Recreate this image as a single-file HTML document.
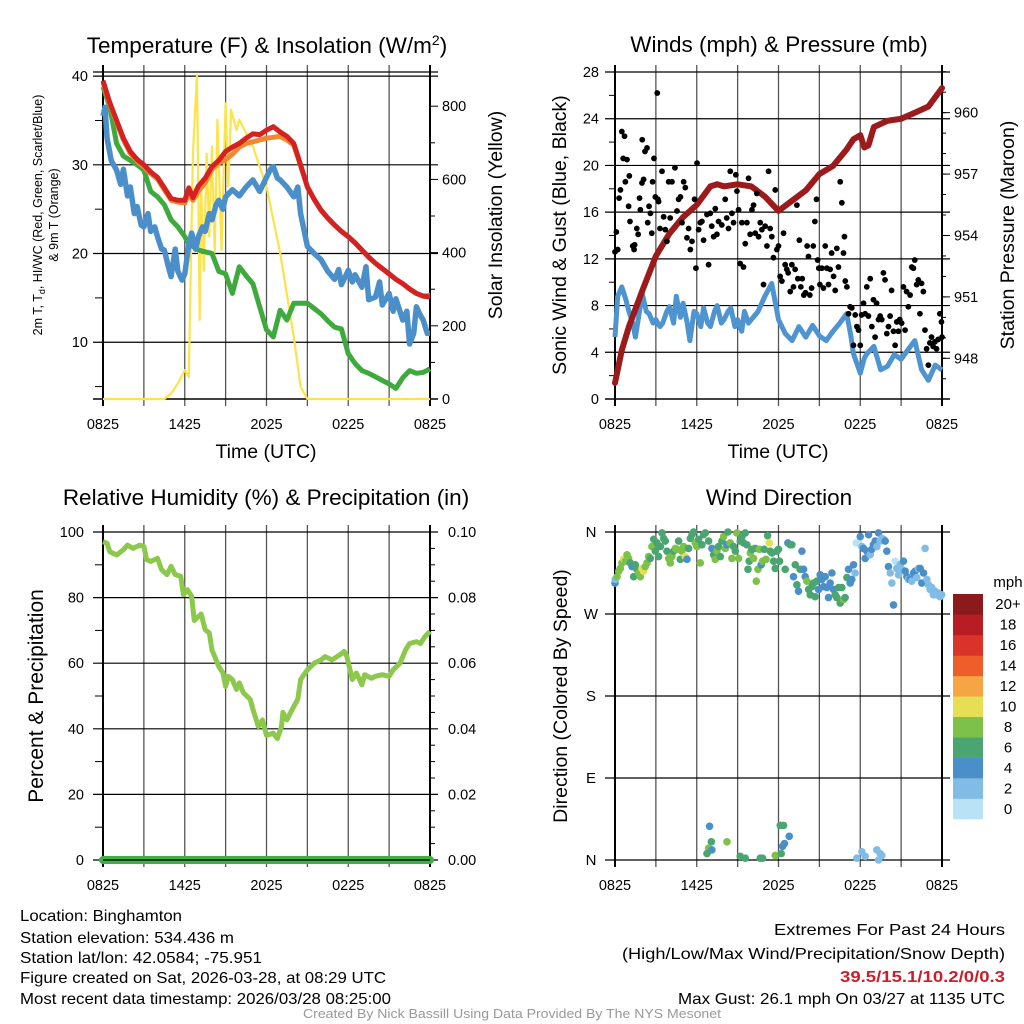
<!DOCTYPE html>
<html><head><meta charset="utf-8"><style>
html,body{margin:0;padding:0;background:#fff}
svg{display:block;font-family:"Liberation Sans",Arial,sans-serif}
</style></head><body>
<svg id="svg" width="1024" height="1024" viewBox="0 0 1024 1024" xmlns="http://www.w3.org/2000/svg">
<g id="g1"></g>
<g id="g2"></g>
<g id="g3"></g>
<g id="g4"></g>
<g font-size="16" fill="#000" lengthAdjust="spacingAndGlyphs">
<text x="20" y="921" textLength="162" lengthAdjust="spacingAndGlyphs">Location: Binghamton</text>
<text x="20" y="943" textLength="214" lengthAdjust="spacingAndGlyphs">Station elevation: 534.436 m</text>
<text x="20" y="963" textLength="242" lengthAdjust="spacingAndGlyphs">Station lat/lon: 42.0584; -75.951</text>
<text x="20" y="983" textLength="366" lengthAdjust="spacingAndGlyphs">Figure created on Sat, 2026-03-28, at 08:29 UTC</text>
<text x="20" y="1004" textLength="371" lengthAdjust="spacingAndGlyphs">Most recent data timestamp: 2026/03/28 08:25:00</text>
<text x="1005" y="935" text-anchor="end" textLength="231" lengthAdjust="spacingAndGlyphs">Extremes For Past 24 Hours</text>
<text x="1005" y="959" text-anchor="end" textLength="383" lengthAdjust="spacingAndGlyphs">(High/Low/Max Wind/Precipitation/Snow Depth)</text>
<text x="1005" y="982" text-anchor="end" textLength="165" lengthAdjust="spacingAndGlyphs" font-weight="bold" fill="#c8202a">39.5/15.1/10.2/0/0.3</text>
<text x="1005" y="1004" text-anchor="end" textLength="327" lengthAdjust="spacingAndGlyphs">Max Gust: 26.1 mph On 03/27 at 1135 UTC</text>
<text x="512" y="1018" text-anchor="middle" font-size="12.5" textLength="418" lengthAdjust="spacingAndGlyphs" fill="#999">Created By Nick Bassill Using Data Provided By The NYS Mesonet</text>
</g>
</svg>
<script>
// ---------- DATA ----------
const timeLabels = ["0825","1425","2025","0225","0825"];
const tempTicks = [10,20,30,40];
const solarTicks = [0,200,400,600,800];
const windTicks = [0,4,8,12,16,20,24,28];
const presTicks = [948,951,954,957,960];
const rhTicks = [0,20,40,60,80,100];
const precipTicks = ["0.00","0.02","0.04","0.06","0.08","0.10"];
const dirTicks = ["N","E","S","W","N"];

const tempH = [0,0.5,1,1.5,2,2.5,3,3.5,4,4.5,5,5.5,6,6.3,6.6,7,7.5,8,8.5,9,9.5,10,10.5,11,11.5,12,12.5,13,13.5,14,14.5,15,15.5,16,16.5,17,17.5,18,18.5,19,19.5,20,20.5,21,21.5,22,22.5,23,23.5,24];
const tempVals = [39.5,37,35,33,31.5,30.6,30,29.2,28.6,27.4,26.2,26,26,27.4,26.3,27.6,28.5,29.8,30.5,31.5,32,32.4,33,33.5,33.4,33.9,34.3,33.7,33.2,32.4,30,27.5,26.1,24.9,24,23.2,22.5,21.9,21.2,20.4,19.6,18.9,18.3,17.7,17.1,16.6,16,15.5,15.2,15.1];
const orangeVals = [39.3,36.8,34.8,32.8,31.3,30.4,29.8,29,28.4,27.2,26,25.8,25.7,26.8,26,27,28,29.5,30.2,30.6,31.2,32,32.4,32.6,32.8,33,33.1,33.2,32.8,32.2,29.9,27.5,26.1,24.9,24,23.2,22.5,21.9,21.2,20.4,19.6,18.9,18.3,17.7,17.1,16.6,16,15.5,15.2,15.3];
const chillH = [0,0.15,0.3,0.6,1,1.3,1.5,1.8,2,2.3,2.5,2.8,3,3.3,3.5,3.8,4,4.3,4.5,4.8,5,5.3,5.5,5.8,6,6.3,6.5,6.8,7,7.3,7.5,7.8,8,8.3,8.5,8.8,9,9.5,10,10.5,11,11.5,12,12.3,12.5,12.8,13,13.5,14,14.3,14.5,15,15.5,16,16.5,17,17.3,17.5,18,18.3,18.5,19,19.3,19.5,20,20.3,20.5,21,21.3,21.5,22,22.3,22.5,22.8,23,23.3,23.5,23.8,24];
const chillVals = [35.5,36.5,33,30.5,29.4,27.8,29.5,26.5,27.5,24.5,25.3,23.2,23,24.5,22.5,23,21.9,20.5,20.4,18.5,17.4,20.5,18,17,17.7,21,22.3,20.5,21.9,23,22.5,24.5,23.8,25.5,26,25,26.4,27.2,26.5,27.5,28.3,27,28.6,29.5,29.8,28.5,28.3,27.5,26.4,27.5,24.5,20.8,20,19.3,18,17.1,18.2,16.5,18.1,16.8,17.6,16.2,18.5,14.8,15.1,16.8,14.2,15.5,13.5,14.9,12.5,13.5,9.8,11,14,13,12.5,11,11];
const dewVals = [38.8,36.5,32.4,31,30.5,30,29.4,27,26.4,25.5,23.8,23,21.9,21.1,20.8,20.4,20.2,20,18,17.7,15.5,18.5,17.5,16.6,14,11.4,10.6,13.6,12.5,14.4,14.4,14.4,13.8,13.2,12.4,11.7,11.5,8.7,7.6,6.8,6.5,6.1,5.7,5.3,4.8,6,6.8,6.5,6.6,7];
const solarH = [0,4.5,5,5.5,6,6.3,6.6,6.9,7.1,7.2,7.4,7.6,7.8,8,8.2,8.4,8.7,9,9.2,9.4,9.8,10,11,12,13,14,14.5,15,24];
const solarVals = [0,0,15,43,79,60,670,885,216,580,350,670,444,690,400,763,407,808,580,790,735,763,690,580,400,170,34,0,0];

const presH = [0,0.5,1,1.5,2,3,4,5,6,7,7.5,8,9,10,11,12,13,14,15,16,17,17.5,18,18.3,18.6,19,20,21,22,23,24];
const presVals = [946.8,948.4,949.5,950.4,951.3,953,954.1,954.9,955.5,956.4,956.5,956.4,956.5,956.4,955.9,955.2,955.7,956.2,957,957.4,958.2,958.7,958.9,958.3,958.4,959.3,959.6,959.7,960,960.3,961.2];
const windH = [0,0.2,0.5,0.8,1,1.3,1.5,1.8,2,2.3,2.5,2.8,3,3.3,3.5,3.8,4,4.3,4.5,4.8,5,5.3,5.5,5.8,6,6.3,6.5,6.8,7,7.3,7.5,7.8,8,8.3,8.5,8.8,9,9.3,9.5,9.8,10,10.5,11,11.5,12,12.5,13,13.5,14,14.5,15,15.5,16,16.5,17,17.3,17.5,18,18.3,18.5,19,19.5,20,20.5,21,21.5,22,22.5,23,23.5,24];
const windVals = [5.3,8.8,9.6,8.5,7.6,6.5,5.3,7.5,9,7.5,7.3,6.5,6.8,6.2,6.5,7.5,7.9,6.5,8.8,7,8.2,6.5,5,7.5,7.3,6.2,7.8,6.5,6.2,7.5,8,6.5,6.8,7.5,7.8,6.2,6.8,5.8,7.5,6.5,6.8,7.5,8.8,9.9,6.8,5.6,5,6.2,5.3,6.3,5.4,5,5.8,6.5,7.3,5.5,3.9,2.2,3.5,3.9,4.5,2.5,2.8,3.8,3.4,4.2,5,2.5,1.6,2.9,2.5];
const gustH = [0,0.1,0.2,0.3,0.4,0.5,0.6,0.7,0.76,0.88,1,1.05,1.1,1.3,1.4,1.44,1.6,1.7,1.8,1.86,1.98,2.0,2.1,2.2,2.35,2.4,2.5,2.6,2.7,2.76,2.86,2.96,3.1,3.15,3.2,3.3,3.45,3.57,3.69,3.81,3.94,4.05,4.18,4.4,4.55,4.67,4.8,4.92,5.04,5.16,5.28,5.4,5.53,5.65,5.84,5.94,6.02,6.14,6.26,6.38,6.5,6.75,6.87,6.99,7.1,7.24,7.36,7.48,7.6,7.84,8.09,8.2,8.33,8.46,8.58,8.7,8.87,8.95,9.07,9.19,9.31,9.43,9.56,9.68,9.8,9.92,10.05,10.17,10.29,10.41,10.54,10.66,10.78,10.9,11.02,11.15,11.27,11.39,11.51,11.63,11.76,11.88,12.0,12.12,12.25,12.37,12.49,12.61,12.71,12.86,12.98,13.1,13.22,13.35,13.42,13.53,13.64,13.74,13.86,13.98,14.1,14.2,14.3,14.43,14.55,14.67,14.79,14.87,14.96,15.04,15.18,15.3,15.43,15.55,15.67,15.79,15.9,16.04,16.16,16.28,16.4,16.53,16.65,16.77,16.84,16.9,17.02,17.14,17.26,17.38,17.5,17.63,17.75,17.87,18.0,18.1,18.24,18.36,18.48,18.6,18.73,18.85,18.97,19.09,19.2,19.34,19.46,19.58,19.7,19.82,19.95,20.07,20.19,20.3,20.44,20.56,20.68,20.8,20.9,21.04,21.17,21.29,21.4,21.53,21.66,21.78,21.9,22.0,22.14,22.26,22.38,22.5,22.63,22.75,22.87,23.0,23.11,23.23,23.35,23.48,23.6,23.72,23.84,23.96,24];
const gustVals = [12.6,14.3,12.8,17.2,17.9,22.9,20.6,22.5,18.6,20.5,16.5,19.1,15.2,13.1,12.8,13.2,14.6,14.1,17.2,16.2,18.5,22.2,18.8,21.2,21.5,15.1,16.5,15.9,14.2,18.6,20.6,17.3,26.2,17.1,16.9,14.6,19.5,15.6,14.5,13.5,18.6,15.5,18.6,19.8,16.1,17.1,17.3,15.1,18.6,18.1,13.8,14.6,12.8,13.5,17.1,11.2,20.2,14.5,15.1,15.2,13.6,15.8,11.5,15.9,14.8,13.9,16.3,14.1,15.2,14.9,17.1,15.5,14.6,19.5,15.9,15.1,19.2,17.8,16.2,11.6,15.1,11.3,13.3,15.1,18.9,14.1,16.2,16.6,14.2,17.6,13.9,15.1,14.5,9.8,14.8,13.1,19.5,14.6,13.9,12.1,17.9,12.8,13.1,10.5,10.1,14.2,11.5,11.1,10.8,9.2,11.5,9.6,11.1,16.6,10.3,13.6,9.6,10.3,8.9,9.1,13.1,12.2,8.9,9.5,13.1,15.2,17.1,11.9,11.2,9.8,11.2,9.5,13.1,11.2,9.8,11.1,12.5,10.5,9.3,12.9,11.3,18.6,16.8,12.5,13.9,10.1,9.6,7.3,7.9,7.8,4.6,7.2,6.2,5.9,4.6,7.2,8.2,7.3,9.6,7.1,10.3,6.2,8.5,5.3,8.2,6.8,7.1,6.8,10.8,10.2,5.6,6.2,7.1,9.3,5.8,4.6,6.6,5.8,6.8,6.5,9.6,5.9,9.2,7.9,8.9,11.3,11.2,11.9,9.8,10.2,7.3,9.9,9.2,5.9,4.3,2.9,4.8,5.3,4.5,4.9,4.3,5.1,7.3,6.6,5.3];

const rhH = [0,0.3,0.5,1,1.5,1.8,2.2,2.7,3,3.2,3.5,4,4.3,4.7,5,5.3,5.7,5.9,6.2,6.5,6.7,7.2,7.5,7.8,8,8.5,8.8,9,9.2,9.5,9.8,10,10.3,10.8,11,11.4,11.7,12,12.5,12.8,13.1,13.2,13.5,13.9,14.3,14.5,15,15.5,16,16.3,16.8,17.4,17.7,17.9,18.1,18.3,18.6,19,19.2,19.7,20,20.5,21,21.3,21.8,22.2,22.5,23,23.3,23.6,24];
const rhVals = [97,96.6,94,93,94.6,96,95,96,95.6,91.6,91,92,88.5,87,89.5,87,86.5,80.9,82.4,80.4,73,75,70.2,69.2,64,59,57,52.9,56,55,52,54,51,49,46,40.7,42.7,38,38.7,37,40.7,45,42.7,46,49,55,58,60,61,62,61,62.6,63.6,62,58.5,55,57,53.4,56.5,55.4,56,56.5,56,58,60,64,66,66.6,66,68,69.7];
const precipH = [0,24];
const precipVals = [0,0];

const dirH = [0,0.02,0.15,0.27,0.39,0.51,0.64,0.76,0.88,1.0,1.12,1.25,1.37,1.49,1.61,1.74,1.86,1.98,2.1,2.22,2.35,2.47,2.59,2.71,2.84,2.96,3.08,3.2,3.33,3.45,3.57,3.69,3.81,3.94,4.06,4.18,4.3,4.43,4.55,4.67,4.79,4.91,5.04,5.16,5.28,5.4,5.53,5.65,5.77,5.89,6.01,6.14,6.26,6.38,6.5,6.63,6.87,7.11,7.24,7.36,7.48,7.6,7.73,7.85,7.97,8.09,8.22,8.29,8.46,8.58,8.7,8.83,8.95,9.07,9.19,9.32,9.44,9.56,9.68,9.76,9.85,9.93,10.05,10.17,10.29,10.37,10.49,10.59,10.73,10.83,10.95,11.08,11.2,11.32,11.39,11.52,11.64,11.76,11.88,12.0,12.08,12.49,12.69,12.86,12.98,13.1,13.23,13.35,13.47,13.59,13.72,13.84,13.96,14.08,14.21,14.33,14.45,14.57,14.69,14.82,14.94,15.06,15.18,15.31,15.43,15.55,15.67,15.79,15.92,16.04,16.16,16.28,16.41,16.53,16.65,16.77,16.89,17.02,17.14,17.26,17.38,17.51,17.63,17.7,17.87,18.0,18.12,18.24,18.36,18.48,18.61,18.73,18.85,18.97,19.1,19.22,19.34,19.46,19.58,19.71,19.83,19.95,20.07,20.2,20.32,20.44,20.56,20.68,20.81,20.93,21.05,21.17,21.3,21.42,21.54,21.66,21.78,21.91,22.03,22.15,22.27,22.4,22.52,22.64,22.76,22.89,23.01,23.13,23.25,23.37,23.5,23.62,23.74,23.86,23.98,
6.94,7.07,6.87,7.11,6.75,8.22,9.19,9.56,10.66,10.83,11.76,12.2,12.3,12.44,12.13,12.37,12.79,17.75,18.12,18.36,19.22,19.34,19.58,19.46];
const dirDeg = [304,308,311,317,320,326,330,328,335,331,326,322,311,324,319,315,311,320,317,322,326,333,331,344,352,339,348,333,344,359,353,350,339,331,326,333,339,342,341,350,330,339,344,333,330,342,353,357,360,348,344,352,326,346,357,359,350,342,335,330,339,344,333,350,355,342,346,360,348,331,344,339,359,331,350,355,348,359,346,319,328,337,341,331,342,306,319,341,324,328,341,330,356,348,339,337,328,320,339,341,328,319,348,346,346,311,324,302,295,319,339,319,311,306,297,291,300,304,289,306,297,313,308,300,311,299,288,304,315,297,291,288,299,282,299,286,288,310,319,304,308,324,315,348,348,355,344,342,331,339,357,335,341,346,350,344,359,350,353,352,350,339,322,315,304,280,328,320,313,324,319,328,317,311,308,308,306,315,317,310,320,320,304,315,342,308,302,297,299,291,295,291,293,289,291,
37,20,13,11,7,20,4,2,2,2,5,7,15,18,38,38,26,2,9,4,11,0,5,7];
const dirSpeed = [4,2,8,8,8,8,10,8,8,8,6,4,6,6,6,8,8,10,10,8,8,8,6,8,6,6,6,6,6,6,6,6,6,8,8,8,6,8,8,6,6,8,8,10,4,6,6,6,6,8,8,6,8,6,6,6,6,4,6,8,8,6,6,6,8,8,4,6,8,8,6,6,8,8,6,6,6,6,6,6,6,8,6,8,6,8,8,8,4,8,6,8,6,10,6,6,6,6,6,6,6,6,4,6,6,4,6,6,4,6,4,4,4,8,6,6,6,6,6,6,4,4,4,4,4,4,4,4,4,4,6,6,6,6,6,8,6,6,4,4,4,4,2,0,0,4,2,4,4,4,4,2,4,4,4,2,4,2,2,2,4,4,4,2,2,4,0,2,2,2,2,4,4,4,2,4,2,4,4,2,2,4,4,4,2,2,2,2,2,2,2,2,2,2,2,
4,6,8,4,6,8,6,6,6,6,8,6,4,4,6,6,4,2,2,2,2,2,2,2];
const speedBins = ["0","2","4","6","8","10","12","14","16","18","20+"];
const speedColors = ["#b9e2f7","#80bce5","#4a8fc8","#4aa571","#7dc04a","#e6df55","#f5a543","#ee5e2b","#d9332a","#b81c24","#8b1a1a"];

// ---------- HELPERS ----------
const NS="http://www.w3.org/2000/svg";
function mk(parent,tag,attrs,text){const e=document.createElementNS(NS,tag);for(const k in attrs)e.setAttribute(k,attrs[k]);if(text!==undefined)e.textContent=text;parent.appendChild(e);return e;}
function pathD(xs,ys,fx,fy){return xs.map((h,i)=>(i?"L":"M")+fx(h).toFixed(1)+","+fy(ys[i]).toFixed(1)).join("");}

function frame(g,x0,x1,y0,y1,xs,title,tx,ty){
  for(let k=0;k<=8;k++){const x=xs(k*3);
    const l=mk(g,"line",{x1:x,x2:x,y1:y0-7,y2:y1+7,stroke:(k==0||k==8)?"#000":"#555","stroke-width":(k==0||k==8)?2:1.3});
    
    
  }
  for(let k=0;k<timeLabels.length;k++){
    const t=mk(g,"text",{x:xs(k*6),y:y1+30,"text-anchor":"middle","font-size":14.5},timeLabels[k]);
    
    
  }
  if(title){const tt=mk(g,"text",{x:tx,y:ty,"text-anchor":"middle","font-size":22.5},title);
  
  }
}
function hline(g,x0,x1,y,w){const l=mk(g,"line",{x1:x0-10,x2:x1+8,y1:y,y2:y,stroke:"#000","stroke-width":w||1.2});
  
  }
function lab(g,x,y,anchor,txt,name,size){const t=mk(g,"text",{x:x,y:y+5,"text-anchor":anchor,"font-size":size||14.5},txt);
  
  return t;}
function vtitle(g,x,y,txt,name,size){const t=mk(g,"text",{x:x,y:y,"text-anchor":"middle","font-size":size||19,transform:"rotate(-90 "+x+" "+y+")"},txt);
  
  return t;}
function tick(g,x,y,len){const l=mk(g,"line",{x1:x,x2:x+len,y1:y,y2:y,stroke:"#000","stroke-width":1});
  
  }

// ---------- PANEL 1 ----------
(function(){
  const g=document.getElementById("g1");
  const X0=103,X1=430,Y0=72,Y1=399;
  const xs=h=>X0+h*(X1-X0)/24;
  const yT=v=>Y1-(v-3.6)*8.87;
  const yS=w=>Y1-w*0.366;
  frame(g,X0,X1,Y0,Y1,xs,"",267,53);
  const t=mk(g,"text",{x:267,y:53,"text-anchor":"middle","font-size":22.5});
  
  
  t.innerHTML='Temperature (F) &amp; Insolation (W/m<tspan dy="-8" font-size="14">2</tspan><tspan dy="8">)</tspan>';
  hline(g,X0,X1,Y0,1.2);
  tempTicks.forEach(v=>{hline(g,X0,X1,yT(v));lab(g,88,yT(v),"end",v,"temp-tick-label");});
  [5,15,25,35].forEach(v=>tick(g,X0-8,yT(v),8));
  solarTicks.forEach(v=>{lab(g,442,yS(v),"start",v,"solar-tick-label");tick(g,X1,yS(v),8);});
  for(let w=100;w<=850;w+=200)tick(g,X1,yS(w),5);
  hline(g,X0,X1,Y1,1.5);
  const sp=mk(g,"path",{d:pathD(solarH,solarVals,xs,yS),fill:"none",stroke:"#fde34a","stroke-width":2.2,"stroke-linejoin":"round"});
  
  
  const dw=mk(g,"path",{d:pathD(tempH,dewVals,xs,yT),fill:"none",stroke:"#3eaa3e","stroke-width":5,"stroke-linejoin":"round"});
  
  
  const ch=mk(g,"path",{d:pathD(chillH,chillVals,xs,yT),fill:"none",stroke:"#4a8fca","stroke-width":5.5,"stroke-linejoin":"round"});
  
  
  const or=mk(g,"path",{d:pathD(tempH,orangeVals,xs,yT),fill:"none",stroke:"#f08a30","stroke-width":5,"stroke-linejoin":"round"});
  
  
  const rd=mk(g,"path",{d:pathD(tempH,tempVals,xs,yT),fill:"none",stroke:"#d42222","stroke-width":5,"stroke-linejoin":"round"});
  
  
  const y1=mk(g,"text",{x:0,y:0,"text-anchor":"middle","font-size":12.5,transform:"translate(42 215) rotate(-90)"});
  
  
  y1.innerHTML='2m T, T<tspan dy="3" font-size="9">d</tspan><tspan dy="-3">, HI/WC (Red, Green, Scarlet/Blue)</tspan>';
  vtitle(g,58,215,"& 9m T (Orange)","temp-y-axis-title-2",12.5);
  vtitle(g,502,215,"Solar Insolation (Yellow)","solar-y-axis-title",19.5);
  lab(g,266,453,"middle","Time (UTC)","x-axis-title",19.5);
})();

// ---------- PANEL 2 ----------
(function(){
  const g=document.getElementById("g2");
  const X0=615,X1=942,Y0=72,Y1=399;
  const xs=h=>X0+h*(X1-X0)/24;
  const yW=v=>Y1-v*(Y1-Y0)/28;
  const yP=p=>358.3-(p-948)*20.47;
  frame(g,X0,X1,Y0,Y1,xs,"Winds (mph) & Pressure (mb)",779,52);
  windTicks.forEach(v=>{hline(g,X0,X1,yW(v),v==0?1.5:1.2);lab(g,599,yW(v),"end",v,"wind-tick-label");});
  [2,6,10,14,18,22,26].forEach(v=>tick(g,X0-6,yW(v),6));
  presTicks.forEach(v=>{lab(g,954,yP(v),"start",v,"pressure-tick-label");tick(g,X1,yP(v),8);});
  for(let p=947;p<=962;p++)tick(g,X1,yP(p),4);
  const wl=mk(g,"path",{d:pathD(windH,windVals,xs,yW),fill:"none",stroke:"#4d94d0","stroke-width":5,"stroke-linejoin":"round"});
  
  
  const pl=mk(g,"path",{d:pathD(presH,presVals,xs,yP),fill:"none",stroke:"#9b1a1c","stroke-width":6,"stroke-linejoin":"round","stroke-linecap":"round"});
  
  
  gustH.forEach((h,i)=>{const c=mk(g,"circle",{cx:xs(h),cy:yW(gustVals[i]),r:2.9,fill:"#000"});
    
    });
  vtitle(g,566,235,"Sonic Wind & Gust (Blue, Black)","wind-y-axis-title",19.5);
  vtitle(g,1014,235,"Station Pressure (Maroon)","pressure-y-axis-title",19.5);
  lab(g,778,453,"middle","Time (UTC)","x-axis-title-2",19.5);
})();

// ---------- PANEL 3 ----------
(function(){
  const g=document.getElementById("g3");
  const X0=103,X1=430,Y0=532,Y1=860;
  const xs=h=>X0+h*(X1-X0)/24;
  const yR=v=>Y1-v*(Y1-Y0)/100;
  frame(g,X0,X1,Y0,Y1,xs,"Relative Humidity (%) & Precipitation (in)",266,505);
  rhTicks.forEach((v,i)=>{hline(g,X0,X1,yR(v));lab(g,84,yR(v),"end",v,"rh-tick-label");lab(g,448,yR(v),"start",precipTicks[i],"precip-tick-label");});
  for(let v=10;v<100;v+=20)tick(g,X0-8,yR(v),8);
  for(let v=5;v<100;v+=5)if(v%20)tick(g,X1,yR(v),5);
  const yPr=p=>Y1-p*(Y1-Y0)/0.1;
  const pr=mk(g,"path",{d:pathD(precipH,precipVals,xs,yPr),fill:"none",stroke:"#3fb044","stroke-width":8,"stroke-linecap":"round"});
  
  
  mk(g,"line",{x1:X0,x2:X1,y1:Y1,y2:Y1,stroke:"#000","stroke-width":1.2});
  const rl=mk(g,"path",{d:pathD(rhH,rhVals,xs,yR),fill:"none",stroke:"#8cc84b","stroke-width":5,"stroke-linejoin":"round"});
  
  
  vtitle(g,43,696,"Percent & Precipitation","rh-y-axis-title",21);
})();

// ---------- PANEL 4 ----------
(function(){
  const g=document.getElementById("g4");
  const X0=615,X1=942,Y0=532,Y1=860;
  const xs=h=>X0+h*(X1-X0)/24;
  const yD=d=>Y1-d*(Y1-Y0)/360;
  frame(g,X0,X1,Y0,Y1,xs,"Wind Direction",779,505);
  dirTicks.forEach((t,i)=>{hline(g,X0,X1,yD(i*90));lab(g,591,yD(i*90),"middle",t,"direction-tick-label",15);});
  dirH.forEach((h,i)=>{
    const s=dirSpeed[i]!==undefined?dirSpeed[i]:4;
    const bi=Math.min(10,Math.max(0,Math.round(s/2)));
    const c=mk(g,"circle",{cx:xs(h),cy:yD(dirDeg[i]),r:3.8,fill:speedColors[bi]});
    
    
  });
  vtitle(g,567,696,"Direction (Colored By Speed)","direction-y-axis-title",19.5);
  const bx=953,bw=30,by0=594,bh=(819-594)/11;
  speedBins.forEach((lbl,i)=>{
    const j=10-i;
    const r=mk(g,"rect",{x:bx,y:by0+j*bh,width:bw,height:bh+0.3,fill:speedColors[i]});
    
    
    lab(g,1008,by0+j*bh+bh/2,"middle",lbl,"colorbar-label",15);
  });
  lab(g,1008,582,"middle","mph","colorbar-title",15);
})();
</script>
</body></html>
